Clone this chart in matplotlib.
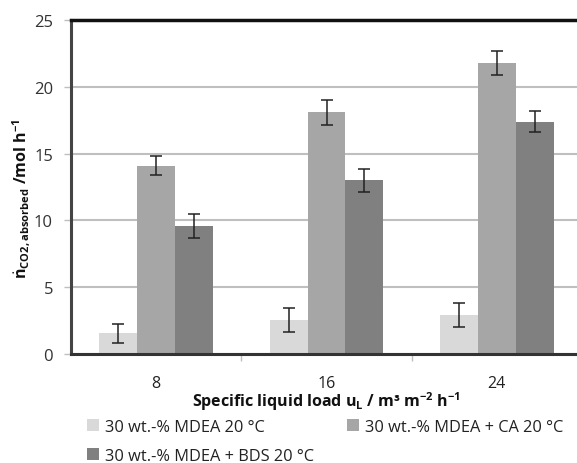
import matplotlib
matplotlib.use("Agg")
import matplotlib.pyplot as plt
import numpy as np

categories = ["8", "16", "24"]
series_names = ["30 wt.-% MDEA 20 °C", "30 wt.-% MDEA + CA 20 °C", "30 wt.-% MDEA + BDS 20 °C"]
mdea = [1.55, 2.55, 2.9]
mdea_err = [0.73, 0.93, 0.9]
mdea_ca = [14.1, 18.1, 21.8]
mdea_ca_err = [0.73, 0.93, 0.9]
mdea_bds = [9.6, 13.0, 17.4]
mdea_bds_err = [0.9, 0.84, 0.8]
colors = ["#d9d9d9", "#a6a6a6", "#808080"]

plt.rcParams['font.family'] = ['Open Sans', 'DejaVu Sans']
plt.rcParams['mathtext.fontset'] = 'custom'
plt.rcParams['mathtext.rm'] = 'Open Sans'
plt.rcParams['mathtext.bf'] = 'Open Sans:bold'
plt.rcParams['mathtext.it'] = 'Open Sans:italic'

fig = plt.figure(figsize=(5.77, 4.64), dpi=100)
ax = fig.add_axes([71/577, 1-355/464, (582-71)/577, (355-21)/464])

x = np.arange(len(categories))
w = 0.222
vals = [mdea, mdea_ca, mdea_bds]
errs = [mdea_err, mdea_ca_err, mdea_bds_err]
handles = []
for i, (v, e, c, n) in enumerate(zip(vals, errs, colors, series_names)):
    b = ax.bar(x + (i - 1) * w, v, w, color=c, label=n, zorder=2,
               yerr=e, error_kw=dict(ecolor="#222222", elinewidth=1.1, capsize=4, capthick=1.1, zorder=3))
    handles.append(b)

ax.set_xlim(-0.5, 2.5)
ax.set_ylim(0, 25)
ax.set_yticks([0, 5, 10, 15, 20, 25])
ax.yaxis.grid(True, color="#bfbfbf", linewidth=1.5, zorder=0)
ax.set_axisbelow(True)
ax.set_xticks(x)
ax.set_xticklabels(categories, fontsize=11.5, color="#222222")
ax.set_xticks([0.5, 1.5], minor=True)
ax.tick_params(axis='x', which='major', length=0, pad=15)
ax.tick_params(axis='x', which='minor', length=5, color="#bfbfbf", width=1)
ax.tick_params(axis='y', length=5, color="#bfbfbf", width=1, labelsize=12, labelcolor="#333333", pad=8)

ax.spines['top'].set_linewidth(2.5)
ax.spines['top'].set_color("#111111")
ax.spines['left'].set_linewidth(2.2)
ax.spines['left'].set_color("#444444")
ax.spines['bottom'].set_linewidth(2.2)
ax.spines['bottom'].set_color("#333333")
ax.spines['right'].set_visible(False)

fig.text(21/577, 1-199/464, r"$\mathbf{\dot{n}}_{\mathbf{CO2,absorbed}}$ /mol h$^{\mathbf{-1}}$",
         rotation=90, ha="center", va="center", fontsize=11.5, fontweight="bold", color="#111111")
ax.set_xlabel(r"Specific liquid load u$_\mathbf{L}$ / m³ m$^\mathbf{-2}$ h$^\mathbf{-1}$",
              fontsize=11.5, fontweight="bold", labelpad=-1, color="#111111")

order = [0, 2, 1]
fig.legend(handles=[handles[k] for k in order], labels=[series_names[k] for k in order],
           ncol=2, loc="upper left",
           bbox_to_anchor=(72/577, 1-405/464), frameon=False, fontsize=11.8,
           handlelength=0.75, handleheight=0.75, handletextpad=0.35,
           columnspacing=2.0, labelspacing=0.8, labelcolor="#222222")

fig.savefig("out.png", dpi=100)
